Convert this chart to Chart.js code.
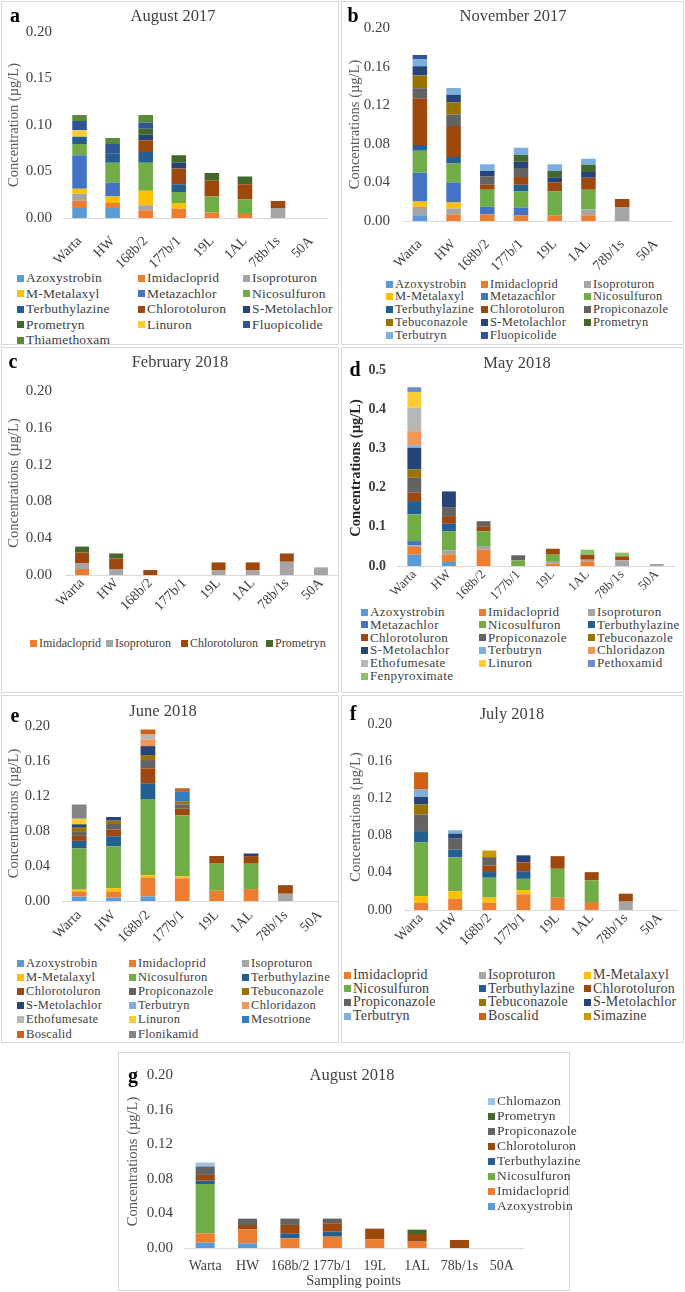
<!DOCTYPE html>
<html><head><meta charset="utf-8">
<script src="https://cdn.jsdelivr.net/npm/chart.js@4.4.1/dist/chart.umd.min.js"></script>
<style>
html,body{margin:0;padding:0;background:#fff;}
body{width:685px;height:1292px;position:relative;overflow:hidden;font-family:"Liberation Serif","Times New Roman",serif;color:#404040;}
.frame{position:absolute;border:1px solid #d9d9d9;box-sizing:border-box;}
canvas{position:absolute;}
.txt{position:absolute;white-space:nowrap;line-height:1;transform:translate(-50%,-50%);}
.letter{font-weight:bold;color:#000;font-size:20px;}
.title{font-size:16.5px;color:#404040;}
.lg{position:absolute;white-space:nowrap;display:flex;align-items:center;color:#404040;height:16px;}
.lg i{display:inline-block;width:7px;height:7px;margin-right:2px;flex:none;}
</style></head><body>
<script>
// ---------- categories ----------
const sites = ['Warta','HW','168b/2','177b/1','19L','1AL','78b/1s','50A'];

// ---------- a: August 2017 ----------
const aNames = ['Azoxystrobin','Imidacloprid','Isoproturon','M-Metalaxyl','Metazachlor','Nicosulfuron','Terbuthylazine','Chlorotoluron','S-Metolachlor','Prometryn','Linuron','Fluopicolide','Thiamethoxam'];
const aAzoxystrobin   = [0.0107,0.0107,0,0,0,0,0,0];
const aImidacloprid   = [0.0079,0.0054,0.0082,0.0100,0.0060,0.0043,0,0];
const aIsoproturon    = [0.0075,0,0.0054,0,0,0,0.0107,0];
const aMMetalaxyl     = [0.0054,0.0070,0.0157,0.0060,0,0,0,0];
const aMetazachlor    = [0.0360,0.0150,0,0,0,0,0,0];
const aNicosulfuron   = [0.0120,0.0214,0.0300,0.0120,0.0171,0.0157,0,0];
const aTerbuthylazine = [0.0079,0.0100,0.0118,0.0082,0,0,0,0];
const aChlorotoluron  = [0,0,0.0125,0.0171,0.0175,0.0164,0.0075,0];
const aSMetolachlor   = [0,0,0.0060,0.0060,0,0,0,0];
const aPrometryn      = [0,0,0.0064,0.0082,0.0079,0.0082,0,0];
const aLinuron        = [0.0070,0,0,0,0,0,0,0];
const aFluopicolide   = [0.0100,0.0100,0.0068,0,0,0,0,0];
const aThiamethoxam   = [0.0064,0.0064,0.0079,0,0,0,0,0];

// ---------- b: November 2017 ----------
const bNames = ['Azoxystrobin','Imidacloprid','Isoproturon','M-Metalaxyl','Metazachlor','Nicosulfuron','Terbuthylazine','Chlorotoluron','Propiconazole','Tebuconazole','S-Metolachlor','Prometryn','Terbutryn','Fluopicolide'];
const bAzoxystrobin   = [0.0060,0,0,0,0,0,0,0];
const bImidacloprid   = [0,0.0067,0.0067,0.0060,0.0060,0.0060,0,0];
const bIsoproturon    = [0.0088,0.0063,0,0,0,0.0060,0.0140,0];
const bMMetalaxyl     = [0.0053,0.0063,0,0,0,0,0,0];
const bMetazachlor    = [0.0298,0.0207,0.0080,0.0080,0,0,0,0];
const bNicosulfuron   = [0.0228,0.0197,0.0176,0.0165,0.0246,0.0204,0,0];
const bTerbuthylazine = [0.0060,0.0067,0,0.0070,0,0,0,0];
const bChlorotoluron  = [0.0484,0.0320,0.0053,0.0080,0.0095,0.0123,0.0088,0];
const bPropiconazole  = [0.0105,0.0120,0.0088,0.0095,0,0,0,0];
const bTebuconazole   = [0.0133,0.0126,0,0,0,0,0,0];
const bSMetolachlor   = [0.0095,0.0077,0.0053,0.0063,0.0053,0.0060,0,0];
const bPrometryn      = [0,0,0,0.0070,0.0063,0.0077,0,0];
const bTerbutryn      = [0.0070,0.0070,0.0070,0.0077,0.0070,0.0060,0,0];
const bFluopicolide   = [0.0046,0,0,0,0,0,0,0];

// ---------- c: February 2018 ----------
const cNames = ['Imidacloprid','Isoproturon','Chlorotoluron','Prometryn'];
const cImidacloprid  = [0.0065,0,0,0,0,0,0,0];
const cIsoproturon   = [0.0060,0.0065,0,0,0.0054,0.0054,0.0144,0.0083];
const cChlorotoluron = [0.0119,0.0115,0.0054,0,0.0083,0.0083,0.0090,0];
const cPrometryn     = [0.0065,0.0054,0,0,0,0,0,0];

// ---------- d: May 2018 ----------
const dNames = ['Azoxystrobin','Imidacloprid','Isoproturon','Metazachlor','Nicosulfuron','Terbuthylazine','Chlorotoluron','Propiconazole','Tebuconazole','S-Metolachlor','Terbutryn','Chloridazon','Ethofumesate','Linuron','Pethoxamid','Fenpyroximate'];
const dAzoxystrobin   = [0.029,0.0102,0,0,0,0,0,0];
const dImidacloprid   = [0.0196,0.0196,0.0417,0,0.006,0.012,0,0];
const dIsoproturon    = [0.004,0.0102,0.0094,0,0.0068,0.004,0.0145,0.005];
const dMetazachlor    = [0.011,0,0,0,0,0,0,0];
const dNicosulfuron   = [0.068,0.049,0.0375,0.0145,0.016,0,0,0];
const dTerbuthylazine = [0.034,0.0187,0,0,0,0,0,0];
const dChlorotoluron  = [0.0213,0.0196,0.0128,0,0.0153,0.0128,0.0102,0];
const dPropiconazole  = [0.038,0.023,0.0128,0.0128,0,0,0,0];
const dTebuconazole   = [0.0213,0,0,0,0,0,0,0];
const dSMetolachlor   = [0.055,0.040,0,0,0,0,0,0];
const dTerbutryn      = [0.0068,0,0,0,0,0,0,0];
const dChloridazon    = [0.036,0,0,0,0,0,0,0];
const dEthofumesate   = [0.060,0,0,0,0,0,0,0];
const dLinuron        = [0.040,0,0,0,0,0,0,0];
const dPethoxamid     = [0.012,0,0,0,0,0,0,0];
const dFenpyroximate  = [0,0,0,0,0,0.0128,0.0094,0];

// ---------- e: June 2018 ----------
const eNames = ['Azoxystrobin','Imidacloprid','Isoproturon','M-Metalaxyl','Nicosulfuron','Terbuthylazine','Chlorotoluron','Propiconazole','Tebuconazole','S-Metolachlor','Terbutryn','Chloridazon','Ethofumesate','Linuron','Mesotrione','Boscalid','Flonikamid'];
const eAzoxystrobin   = [0.005,0.004,0.0053,0,0,0,0,0];
const eImidacloprid   = [0.006,0.0068,0.0216,0.0258,0.0117,0.0136,0,0];
const eIsoproturon    = [0,0,0,0,0,0,0.0083,0];
const eMMetalaxyl     = [0.002,0.0038,0.0027,0.0023,0,0,0,0];
const eNicosulfuron   = [0.047,0.048,0.087,0.0697,0.031,0.029,0,0];
const eTerbuthylazine = [0.0087,0.0114,0.018,0,0,0,0,0];
const eChlorotoluron  = [0.0057,0.0076,0.017,0.0076,0.0087,0.0087,0.0098,0];
const ePropiconazole  = [0.0045,0.0064,0.0095,0.0049,0,0,0,0];
const eTebuconazole   = [0.0057,0.0038,0.0057,0.0038,0,0,0,0];
const eSMetolachlor   = [0.003,0.0042,0.0102,0,0,0.003,0,0];
const eTerbutryn      = [0,0,0,0,0,0,0,0];
const eChloridazon    = [0,0,0.0076,0,0,0,0,0];
const eEthofumesate   = [0,0,0.0057,0,0,0,0,0];
const eLinuron        = [0.0064,0,0,0,0,0,0,0];
const eMesotrione     = [0,0,0,0.0114,0,0,0,0];
const eBoscalid       = [0,0,0.0057,0.0034,0,0,0,0];
const eFlonikamid     = [0.0163,0,0,0,0,0,0,0];

// ---------- f: July 2018 ----------
const fNames = ['Imidacloprid','Isoproturon','M-Metalaxyl','Nicosulfuron','Terbuthylazine','Chlorotoluron','Propiconazole','Tebuconazole','S-Metolachlor','Terbutryn','Boscalid','Simazine'];
const fImidacloprid   = [0.0079,0.0121,0.0079,0.0168,0.0132,0.0086,0,0];
const fIsoproturon    = [0,0,0,0,0,0,0.009,0];
const fMMetalaxyl     = [0.0071,0.0082,0.0054,0.0046,0,0,0,0];
const fNicosulfuron   = [0.058,0.0364,0.0214,0.0121,0.0311,0.0232,0,0];
const fTerbuthylazine = [0.0118,0.0082,0.0061,0.0082,0,0,0,0];
const fChlorotoluron  = [0,0,0.0071,0.0096,0.0136,0.0089,0.0085,0];
const fPropiconazole  = [0.0179,0.0118,0.0089,0,0,0,0,0];
const fTebuconazole   = [0.0107,0,0,0,0,0,0,0];
const fSMetolachlor   = [0.0082,0.0054,0,0.0075,0,0,0,0];
const fTerbutryn      = [0.0079,0.0036,0,0,0,0,0,0];
const fBoscalid       = [0.0186,0,0,0,0,0,0,0];
const fSimazine       = [0,0,0.0071,0,0,0,0,0];

// ---------- g: August 2018 ----------
const gNames = ['Azoxystrobin','Imidacloprid','Nicosulfuron','Terbuthylazine','Chlorotoluron','Propiconazole','Prometryn','Chlomazon'];
const gAzoxystrobin   = [0.0062,0.0054,0,0,0,0,0,0];
const gImidacloprid   = [0.0108,0.0162,0.0112,0.0131,0.010,0.0073,0,0];
const gNicosulfuron   = [0.057,0,0,0,0,0,0,0];
const gTerbuthylazine = [0.0039,0,0.0058,0.0058,0,0,0,0];
const gChlorotoluron  = [0.0066,0.005,0.0097,0.0097,0.0124,0.0089,0.0093,0];
const gPropiconazole  = [0.0097,0.0073,0.0073,0.0054,0,0,0,0];
const gPrometryn      = [0,0,0,0,0,0.005,0,0];
const gChlomazon      = [0.0046,0,0,0,0,0,0,0];

// ---------- styles ----------
const colors = {
  'Azoxystrobin':'#5B9BD5','Imidacloprid':'#ED7D31','Isoproturon':'#A5A5A5','M-Metalaxyl':'#FFC000',
  'Metazachlor':'#4472C4','Nicosulfuron':'#70AD47','Terbuthylazine':'#255E91','Chlorotoluron':'#9E480E',
  'Propiconazole':'#636363','Tebuconazole':'#997300','S-Metolachlor':'#264478','Prometryn':'#43682B',
  'Terbutryn':'#7CAFDD','Chloridazon':'#F1975A','Ethofumesate':'#B7B7B7','Linuron':'#FFCD33',
  'Pethoxamid':'#698ED0','Fenpyroximate':'#8CC168','Fluopicolide':'#2F5597','Thiamethoxam':'#5A8A39',
  'Mesotrione':'#327DC2','Boscalid':'#D26012','Flonikamid':'#848484','Simazine':'#CC9A00','Chlomazon':'#9DC3E6'
};
const FONT = 'Liberation Serif';

function el(cls, x, y, text, extra) {
  const d = document.createElement('div');
  d.className = 'txt ' + cls;
  d.style.left = x + 'px'; d.style.top = y + 'px';
  d.textContent = text;
  if (extra) Object.assign(d.style, extra);
  document.body.appendChild(d);
}
function frame(x, y, w, h) {
  const d = document.createElement('div');
  d.className = 'frame';
  Object.assign(d.style, {left:x+'px', top:y+'px', width:w+'px', height:h+'px'});
  document.body.appendChild(d);
}
function legend(names, cols, y0, dy, fs, ls) {
  names.forEach((n, i) => {
    const r = Math.floor(i / cols.length), c = i % cols.length;
    const d = document.createElement('div');
    d.className = 'lg';
    d.style.left = cols[c] + 'px';
    d.style.top = (y0 + r * dy - 8) + 'px';
    d.style.fontSize = fs + 'px';
    d.style.letterSpacing = ls + 'px';
    d.innerHTML = '<i style="background:' + colors[n] + '"></i>' + n;
    document.body.appendChild(d);
  });
}

function mkChart(p) {
  const cv = document.createElement('canvas');
  cv.width = p.rect.w; cv.height = p.rect.h;
  Object.assign(cv.style, {left:p.rect.x+'px', top:p.rect.y+'px', width:p.rect.w+'px', height:p.rect.h+'px'});
  document.body.appendChild(cv);
  const a = p.area, r = p.rect;
  const xTitle = p.xTitle ? {display:true, text:p.xTitle, color:'#404040', font:{family:FONT, size:14.5}, padding:{top:0,bottom:0}} : {display:false};
  new Chart(cv.getContext('2d'), {
    type:'bar',
    data:{
      labels: sites,
      datasets: p.names.map((n, i) => ({
        label:n, data:p.series[i], backgroundColor:colors[n], borderWidth:0,
        barPercentage:p.bp, categoryPercentage:1
      }))
    },
    options:{
      responsive:false, animation:false, devicePixelRatio:1,
      layout:{padding:{left:0, top:a.T - r.y, right:r.x + r.w - a.R, bottom:0}},
      plugins:{legend:{display:false}, tooltip:{enabled:false}, title:{display:false}},
      scales:{
        x:{
          stacked:true,
          grid:{display:false, drawTicks:false},
          border:{display:true, color:'#d9d9d9', width:1},
          ticks:{autoSkip:false, minRotation:p.rot, maxRotation:p.rot, padding:p.xpad, color:'#404040', font:{family:FONT, size:p.xfs}},
          title:xTitle,
          afterFit:s => { s.height = r.y + r.h - a.B; }
        },
        y:{
          stacked:true, min:0, max:p.yMax,
          grid:{display:false, drawTicks:false},
          border:{display:false},
          ticks:{stepSize:p.yStep, padding:p.ypad, color:'#404040',
                 font:{family:FONT, size:p.yfs, weight:p.bold ? 'bold' : 'normal'},
                 callback:v => Number(v).toFixed(p.dec)},
          title:{display:true, text:p.yTitle, color:p.bold ? '#262626' : '#595959',
                 font:{family:FONT, size:14.5, weight:p.bold ? 'bold' : 'normal'},
                 padding:{top:p.tpad, bottom:0}},
          afterFit:s => { s.width = a.L - r.x; }
        }
      }
    }
  });
}

// ---------- frames ----------
frame(1,1,338,344); frame(341,1,343,344);
frame(1,347,338,346); frame(341,347,343,346);
frame(1,695,338,348); frame(341,695,343,348);
frame(118,1052,452,239);

// ---------- a ----------
mkChart({rect:{x:2,y:2,w:336,h:268}, area:{L:63,T:32,R:338,B:218},
  names:aNames, series:[aAzoxystrobin,aImidacloprid,aIsoproturon,aMMetalaxyl,aMetazachlor,aNicosulfuron,aTerbuthylazine,aChlorotoluron,aSMetolachlor,aPrometryn,aLinuron,aFluopicolide,aThiamethoxam],
  yMax:0.20, yStep:0.05, dec:2, yfs:15, ypad:11, xfs:14, xpad:15, rot:45, bp:0.44, yTitle:'Concentration (µg/L)', tpad:3});
el('letter',15,15,'a'); el('title',173,16,'August 2017');
legend(aNames,[17,138,243],278,15.5,13.5,0.2);

// ---------- b ----------
mkChart({rect:{x:342,y:2,w:341,h:268}, area:{L:403,T:28,R:679,B:221},
  names:bNames, series:[bAzoxystrobin,bImidacloprid,bIsoproturon,bMMetalaxyl,bMetazachlor,bNicosulfuron,bTerbuthylazine,bChlorotoluron,bPropiconazole,bTebuconazole,bSMetolachlor,bPrometryn,bTerbutryn,bFluopicolide],
  yMax:0.20, yStep:0.04, dec:2, yfs:15, ypad:13, xfs:14, xpad:15, rot:45, bp:0.43, yTitle:'Concentrations (µg/L)', tpad:4});
el('letter',353,15,'b'); el('title',513,16,'November 2017');
legend(bNames,[386,481,584],284,12.8,12.5,0.3);

// ---------- c ----------
mkChart({rect:{x:2,y:348,w:336,h:270}, area:{L:65,T:391,R:338,B:575},
  names:cNames, series:[cImidacloprid,cIsoproturon,cChlorotoluron,cPrometryn],
  yMax:0.20, yStep:0.04, dec:2, yfs:15, ypad:13, xfs:14, xpad:0, rot:45, bp:0.41, yTitle:'Concentrations (µg/L)', tpad:3});
el('letter',13,361,'c'); el('title',180,362,'February 2018');
legend(['Imidacloprid'],[30],643,13,12,0);
legend(['Isoproturon'],[106],643,13,12,0);
legend(['Chlorotoluron'],[181],643,13,12,0);
legend(['Prometryn'],[266],643,13,12,0);

// ---------- d ----------
mkChart({rect:{x:342,y:348,w:341,h:255}, area:{L:397,T:370,R:674,B:566},
  names:dNames, series:[dAzoxystrobin,dImidacloprid,dIsoproturon,dMetazachlor,dNicosulfuron,dTerbuthylazine,dChlorotoluron,dPropiconazole,dTebuconazole,dSMetolachlor,dTerbutryn,dChloridazon,dEthofumesate,dLinuron,dPethoxamid,dFenpyroximate],
  yMax:0.5, yStep:0.1, dec:1, yfs:14, ypad:11, xfs:13, xpad:1, rot:45, bp:0.40, yTitle:'Concentrations (µg/L)', tpad:6, bold:true});
el('letter',355,369,'d'); el('title',517,363,'May 2018');
legend(dNames,[361,479,588],612,12.8,13,0.35);

// ---------- e ----------
mkChart({rect:{x:2,y:696,w:336,h:250}, area:{L:62,T:726,R:337,B:901},
  names:eNames, series:[eAzoxystrobin,eImidacloprid,eIsoproturon,eMMetalaxyl,eNicosulfuron,eTerbuthylazine,eChlorotoluron,ePropiconazole,eTebuconazole,eSMetolachlor,eTerbutryn,eChloridazon,eEthofumesate,eLinuron,eMesotrione,eBoscalid,eFlonikamid],
  yMax:0.20, yStep:0.04, dec:2, yfs:14.5, ypad:12, xfs:14, xpad:6, rot:45, bp:0.43, yTitle:'Concentrations (µg/L)', tpad:3});
el('letter',15,715,'e'); el('title',163,711,'June 2018');
legend(eNames,[17,129,242],963,14.2,12.5,0.3);

// ---------- f ----------
mkChart({rect:{x:342,y:696,w:341,h:255}, area:{L:404,T:724,R:677,B:910},
  names:fNames, series:[fImidacloprid,fIsoproturon,fMMetalaxyl,fNicosulfuron,fTerbuthylazine,fChlorotoluron,fPropiconazole,fTebuconazole,fSMetolachlor,fTerbutryn,fBoscalid,fSimazine],
  yMax:0.20, yStep:0.04, dec:2, yfs:14, ypad:12, xfs:14, xpad:0, rot:45, bp:0.41, yTitle:'Concentrations (µg/L)', tpad:5});
el('letter',353,713,'f'); el('title',512,714,'July 2018');
legend(fNames,[344,479,584],975,13.7,14,0.2);

// ---------- g ----------
mkChart({rect:{x:119,y:1053,w:450,h:237}, area:{L:184,T:1075,R:523,B:1248},
  names:gNames, series:[gAzoxystrobin,gImidacloprid,gNicosulfuron,gTerbuthylazine,gChlorotoluron,gPropiconazole,gPrometryn,gChlomazon],
  yMax:0.20, yStep:0.04, dec:2, yfs:15, ypad:11, xfs:14, xpad:10, rot:0, bp:0.45, yTitle:'Concentrations (µg/L)', tpad:5, xTitle:'Sampling points'});
el('letter',133,1075,'g'); el('title',352,1075,'August 2018');
legend(gNames.slice().reverse(),[488],1101,15,13.5,0.2);
</script>
</body></html>
